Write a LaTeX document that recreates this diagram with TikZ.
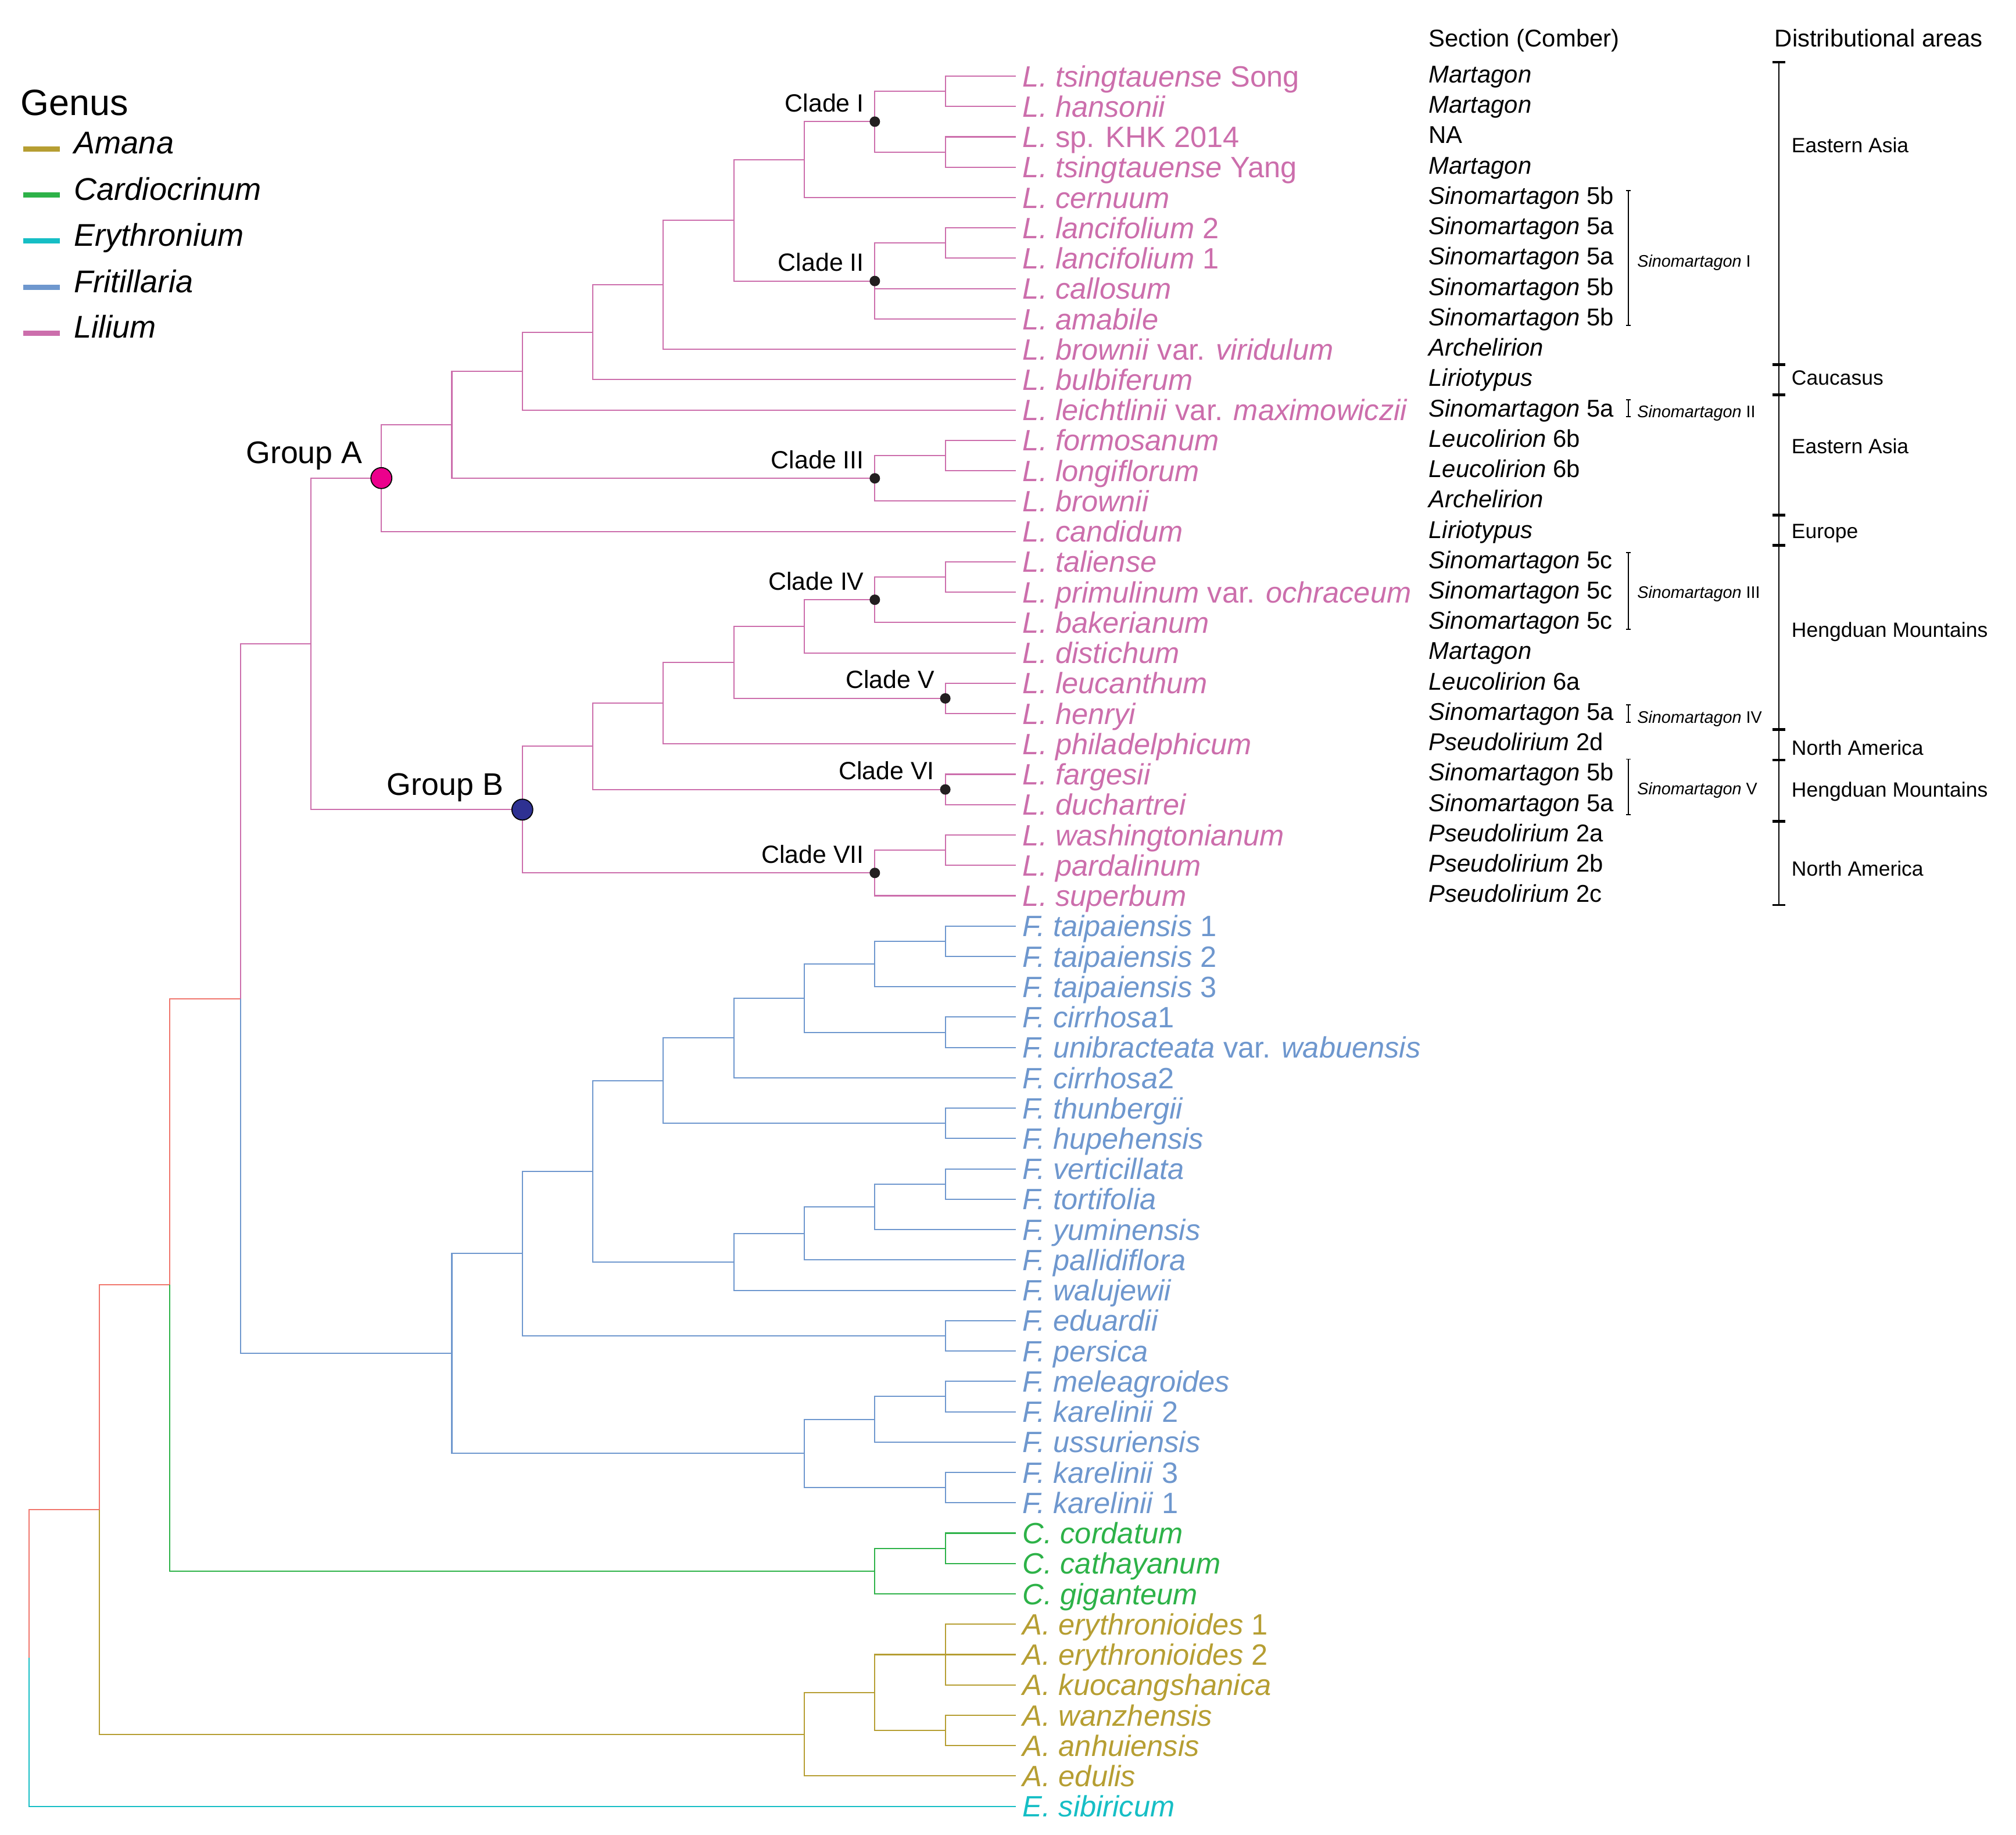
\documentclass[tikz,border=0pt]{standalone}
\usepackage{fontspec}
\setmainfont{Liberation Sans}
\definecolor{lilium}{RGB}{204,110,172}
\definecolor{fritillaria}{RGB}{110,151,206}
\definecolor{cardiocrinum}{RGB}{45,178,72}
\definecolor{amana}{RGB}{182,158,50}
\definecolor{erythronium}{RGB}{22,190,197}
\definecolor{stem}{RGB}{240,118,108}
\definecolor{groupA}{RGB}{236,0,140}
\definecolor{groupB}{RGB}{46,49,146}
\definecolor{cladedot}{RGB}{35,31,32}
\begin{document}
\begin{tikzpicture}[x=1.213cm, y=-0.5224cm,
  branch/.style={line width=0.6pt},
  leaf/.style={anchor=west, inner sep=0pt, outer xsep=0.12cm, text height=10.3pt, text depth=0pt, font=\fontsize{14.4}{17}\selectfont},
  sect/.style={anchor=west, inner sep=0pt, text height=8.5pt, text depth=0pt, yshift=0.035cm, font=\fontsize{11.9}{14}\selectfont},
  smallsect/.style={anchor=base west, inner sep=0pt, font=\fontsize{8.2}{10}\selectfont},
  distlab/.style={anchor=base west, inner sep=0pt, font=\fontsize{10.1}{12}\selectfont},
  colhead/.style={anchor=base west, inner sep=0pt, font=\fontsize{11.9}{14}\selectfont},
  cladelab/.style={anchor=base east, inner sep=0pt, xshift=-0.18cm, yshift=0.17cm, font=\fontsize{12.2}{14}\selectfont},
  grouplab/.style={anchor=base east, inner sep=0pt, xshift=-0.32cm, yshift=0.25cm, font=\fontsize{15.3}{18}\selectfont},
  cdot/.style={circle, fill=cladedot, inner sep=0pt, minimum size=0.18cm},
  gdot/.style={circle, draw=black, line width=0.5pt, inner sep=0pt, minimum size=0.36cm},
  legtext/.style={anchor=base west, inner sep=0pt, font=\fontsize{15.4}{18}\selectfont\itshape},
  bracket/.style={line width=0.5pt},
  distbar/.style={line width=0.8pt}]
\useasboundingbox (-0.41,-2.508) rectangle (28.189,57.944);
%
% x = depth in the tree, y = row of the tip
%
% tips
\node[leaf, text=lilium] (l0) at (14,0) {\textit{L. tsingtauense} Song};
\node[leaf, text=lilium] (l1) at (14,1) {\textit{L. hansonii}};
\node[leaf, text=lilium] (l2) at (14,2) {\textit{L.} sp. KHK 2014};
\node[leaf, text=lilium] (l3) at (14,3) {\textit{L. tsingtauense} Yang};
\node[leaf, text=lilium] (l4) at (14,4) {\textit{L. cernuum}};
\node[leaf, text=lilium] (l5) at (14,5) {\textit{L. lancifolium} 2};
\node[leaf, text=lilium] (l6) at (14,6) {\textit{L. lancifolium} 1};
\node[leaf, text=lilium] (l7) at (14,7) {\textit{L. callosum}};
\node[leaf, text=lilium] (l8) at (14,8) {\textit{L. amabile}};
\node[leaf, text=lilium] (l9) at (14,9) {\textit{L. brownii} var. \textit{viridulum}};
\node[leaf, text=lilium] (l10) at (14,10) {\textit{L. bulbiferum}};
\node[leaf, text=lilium] (l11) at (14,11) {\textit{L. leichtlinii} var. \textit{maximowiczii}};
\node[leaf, text=lilium] (l12) at (14,12) {\textit{L. formosanum}};
\node[leaf, text=lilium] (l13) at (14,13) {\textit{L. longiflorum}};
\node[leaf, text=lilium] (l14) at (14,14) {\textit{L. brownii}};
\node[leaf, text=lilium] (l15) at (14,15) {\textit{L. candidum}};
\node[leaf, text=lilium] (l16) at (14,16) {\textit{L. taliense}};
\node[leaf, text=lilium] (l17) at (14,17) {\textit{L. primulinum} var. \textit{ochraceum}};
\node[leaf, text=lilium] (l18) at (14,18) {\textit{L. bakerianum}};
\node[leaf, text=lilium] (l19) at (14,19) {\textit{L. distichum}};
\node[leaf, text=lilium] (l20) at (14,20) {\textit{L. leucanthum}};
\node[leaf, text=lilium] (l21) at (14,21) {\textit{L. henryi}};
\node[leaf, text=lilium] (l22) at (14,22) {\textit{L. philadelphicum}};
\node[leaf, text=lilium] (l23) at (14,23) {\textit{L. fargesii}};
\node[leaf, text=lilium] (l24) at (14,24) {\textit{L. duchartrei}};
\node[leaf, text=lilium] (l25) at (14,25) {\textit{L. washingtonianum}};
\node[leaf, text=lilium] (l26) at (14,26) {\textit{L. pardalinum}};
\node[leaf, text=lilium] (l27) at (14,27) {\textit{L. superbum}};
\node[leaf, text=fritillaria] (l28) at (14,28) {\textit{F. taipaiensis} 1};
\node[leaf, text=fritillaria] (l29) at (14,29) {\textit{F. taipaiensis} 2};
\node[leaf, text=fritillaria] (l30) at (14,30) {\textit{F. taipaiensis} 3};
\node[leaf, text=fritillaria] (l31) at (14,31) {\textit{F. cirrhosa}1};
\node[leaf, text=fritillaria] (l32) at (14,32) {\textit{F. unibracteata} var. \textit{wabuensis}};
\node[leaf, text=fritillaria] (l33) at (14,33) {\textit{F. cirrhosa}2};
\node[leaf, text=fritillaria] (l34) at (14,34) {\textit{F. thunbergii}};
\node[leaf, text=fritillaria] (l35) at (14,35) {\textit{F. hupehensis}};
\node[leaf, text=fritillaria] (l36) at (14,36) {\textit{F. verticillata}};
\node[leaf, text=fritillaria] (l37) at (14,37) {\textit{F. tortifolia}};
\node[leaf, text=fritillaria] (l38) at (14,38) {\textit{F. yuminensis}};
\node[leaf, text=fritillaria] (l39) at (14,39) {\textit{F. pallidiflora}};
\node[leaf, text=fritillaria] (l40) at (14,40) {\textit{F. walujewii}};
\node[leaf, text=fritillaria] (l41) at (14,41) {\textit{F. eduardii}};
\node[leaf, text=fritillaria] (l42) at (14,42) {\textit{F. persica}};
\node[leaf, text=fritillaria] (l43) at (14,43) {\textit{F. meleagroides}};
\node[leaf, text=fritillaria] (l44) at (14,44) {\textit{F. karelinii} 2};
\node[leaf, text=fritillaria] (l45) at (14,45) {\textit{F. ussuriensis}};
\node[leaf, text=fritillaria] (l46) at (14,46) {\textit{F. karelinii} 3};
\node[leaf, text=fritillaria] (l47) at (14,47) {\textit{F. karelinii} 1};
\node[leaf, text=cardiocrinum] (l48) at (14,48) {\textit{C. cordatum}};
\node[leaf, text=cardiocrinum] (l49) at (14,49) {\textit{C. cathayanum}};
\node[leaf, text=cardiocrinum] (l50) at (14,50) {\textit{C. giganteum}};
\node[leaf, text=amana] (l51) at (14,51) {\textit{A. erythronioides} 1};
\node[leaf, text=amana] (l52) at (14,52) {\textit{A. erythronioides} 2};
\node[leaf, text=amana] (l53) at (14,53) {\textit{A. kuocangshanica}};
\node[leaf, text=amana] (l54) at (14,54) {\textit{A. wanzhensis}};
\node[leaf, text=amana] (l55) at (14,55) {\textit{A. anhuiensis}};
\node[leaf, text=amana] (l56) at (14,56) {\textit{A. edulis}};
\node[leaf, text=erythronium] (l57) at (14,57) {\textit{E. sibiricum}};
%
% inner nodes, Lilium
\coordinate (lil) at (4,18.7031);
\coordinate (ga) at (5,13.2422);
\coordinate (ga1) at (6,11.4844);
\coordinate (ga2) at (7,9.7188);
\coordinate (ga3) at (8,8.4375);
\coordinate (ga4) at (9,6.875);
\coordinate (ga5) at (10,4.75);
\coordinate (ga6) at (11,2.75);
\coordinate (c1) at (12,1.5);
\coordinate (c1a) at (13,0.5);
\coordinate (c1b) at (13,2.5);
\coordinate (c2) at (12,6.75);
\coordinate (c2a) at (13,5.5);
\coordinate (c3) at (12,13.25);
\coordinate (c3a) at (13,12.5);
\coordinate (gb) at (7,24.1641);
\coordinate (gb1) at (8,22.0781);
\coordinate (gb2) at (9,20.6563);
\coordinate (gb3) at (10,19.3125);
\coordinate (gb4) at (11,18.125);
\coordinate (c4) at (12,17.25);
\coordinate (c4a) at (13,16.5);
\coordinate (c5) at (13,20.5);
\coordinate (c6) at (13,23.5);
\coordinate (c7) at (12,26.25);
\coordinate (c7a) at (13,25.5);
% Fritillaria
\coordinate (fri) at (6,42.082);
\coordinate (f1) at (7,38.7891);
\coordinate (f1a) at (13,41.5);
\coordinate (f2) at (8,36.0781);
\coordinate (f3) at (9,33.0938);
\coordinate (f3a) at (13,34.5);
\coordinate (f4) at (10,31.6875);
\coordinate (f5) at (11,30.375);
\coordinate (f5a) at (13,31.5);
\coordinate (f6) at (12,29.25);
\coordinate (f6a) at (13,28.5);
\coordinate (f7) at (10,39.0625);
\coordinate (f8) at (11,38.125);
\coordinate (f9) at (12,37.25);
\coordinate (f9a) at (13,36.5);
\coordinate (f10) at (11,45.375);
\coordinate (f11) at (12,44.25);
\coordinate (f11a) at (13,43.5);
\coordinate (f12) at (13,46.5);
% Cardiocrinum, Amana, backbone
\coordinate (car) at (12,49.25);
\coordinate (car1) at (13,48.5);
\coordinate (am) at (11,54.625);
\coordinate (am1) at (12,53.25);
\coordinate (am2) at (13,52);
\coordinate (am3) at (13,54.5);
\coordinate (n3) at (3,30.3926);
\coordinate (n2) at (2,39.8213);
\coordinate (n1) at (1,47.2231);
\coordinate (r) at (0,52.1116);
%
% branches
\draw[branch, stem] (r) |- (n1) (n1) |- (n2) (n2) |- (n3);
\draw[branch, erythronium] (r) |- (l57);
\draw[branch, amana] (n1) |- (am) (am) |- (am1) (am) |- (l56)
  (am1) |- (am2) (am1) |- (am3) (am2) |- (l51) (am2) -- (l52) (am2) |- (l53)
  (am3) |- (l54) (am3) |- (l55);
\draw[branch, cardiocrinum] (n2) |- (car) (car) |- (car1) (car) |- (l50)
  (car1) |- (l48) (car1) |- (l49);
\draw[branch, fritillaria] (n3) |- (fri) (fri) |- (f1) (fri) |- (f10)
  (f1) |- (f2) (f1) |- (f1a) (f1a) |- (l41) (f1a) |- (l42)
  (f2) |- (f3) (f2) |- (f7)
  (f3) |- (f4) (f3) |- (f3a) (f3a) |- (l34) (f3a) |- (l35)
  (f4) |- (f5) (f4) |- (l33)
  (f5) |- (f6) (f5) |- (f5a) (f5a) |- (l31) (f5a) |- (l32)
  (f6) |- (f6a) (f6) |- (l30) (f6a) |- (l28) (f6a) |- (l29)
  (f7) |- (f8) (f7) |- (l40)
  (f8) |- (f9) (f8) |- (l39)
  (f9) |- (f9a) (f9) |- (l38) (f9a) |- (l36) (f9a) |- (l37)
  (f10) |- (f11) (f10) |- (f12) (f12) |- (l46) (f12) |- (l47)
  (f11) |- (f11a) (f11) |- (l45) (f11a) |- (l43) (f11a) |- (l44);
\draw[branch, lilium] (n3) |- (lil) (lil) |- (ga) (lil) |- (gb)
  (ga) |- (ga1) (ga) |- (l15)
  (ga1) |- (ga2) (ga1) |- (c3)
  (ga2) |- (ga3) (ga2) |- (l11)
  (ga3) |- (ga4) (ga3) |- (l10)
  (ga4) |- (ga5) (ga4) |- (l9)
  (ga5) |- (ga6) (ga5) |- (c2)
  (ga6) |- (c1) (ga6) |- (l4)
  (c1) |- (c1a) (c1) |- (c1b) (c1a) |- (l0) (c1a) |- (l1) (c1b) |- (l2) (c1b) |- (l3)
  (c2) |- (c2a) (c2) |- (l7) (c2) |- (l8) (c2a) |- (l5) (c2a) |- (l6)
  (c3) |- (c3a) (c3) |- (l14) (c3a) |- (l12) (c3a) |- (l13)
  (gb) |- (gb1) (gb) |- (c7)
  (gb1) |- (gb2) (gb1) |- (c6)
  (gb2) |- (gb3) (gb2) |- (l22)
  (gb3) |- (gb4) (gb3) |- (c5)
  (gb4) |- (c4) (gb4) |- (l19)
  (c4) |- (c4a) (c4) |- (l18) (c4a) |- (l16) (c4a) |- (l17)
  (c5) |- (l20) (c5) |- (l21)
  (c6) |- (l23) (c6) |- (l24)
  (c7) |- (c7a) (c7) |- (l27) (c7a) |- (l25) (c7a) |- (l26);
%
% groups and clades
\node[gdot, fill=groupA] (gadot) at (ga) {};
\node[gdot, fill=groupB] (gbdot) at (gb) {};
\node[grouplab] (galab) at (ga) {Group A};
\node[grouplab] (gblab) at (gb) {Group B};
\node[cdot] (c1dot) at (c1) {};
\node[cdot] (c2dot) at (c2) {};
\node[cdot] (c3dot) at (c3) {};
\node[cdot] (c4dot) at (c4) {};
\node[cdot] (c5dot) at (c5) {};
\node[cdot] (c6dot) at (c6) {};
\node[cdot] (c7dot) at (c7) {};
\node[cladelab] (c1lab) at (c1) {Clade I};
\node[cladelab] (c2lab) at (c2) {Clade II};
\node[cladelab] (c3lab) at (c3) {Clade III};
\node[cladelab] (c4lab) at (c4) {Clade IV};
\node[cladelab] (c5lab) at (c5) {Clade V};
\node[cladelab] (c6lab) at (c6) {Clade VI};
\node[cladelab] (c7lab) at (c7) {Clade VII};
%
% legend
\node[anchor=base west, inner sep=0pt, font=\fontsize{17.9}{21}\selectfont] (genus) at (-0.121,1.30) {Genus};
\draw[amana, line width=2.56pt] (-0.08,2.393) -- (0.44,2.393);
\draw[cardiocrinum, line width=2.56pt] (-0.08,3.924) -- (0.44,3.924);
\draw[erythronium, line width=2.56pt] (-0.08,5.436) -- (0.44,5.436);
\draw[fritillaria, line width=2.56pt] (-0.08,6.949) -- (0.44,6.949);
\draw[lilium, line width=2.56pt] (-0.08,8.461) -- (0.44,8.461);
\node[legtext] (gen1) at (0.637,2.565) {Amana};
\node[legtext] (gen2) at (0.637,4.096) {Cardiocrinum};
\node[legtext] (gen3) at (0.637,5.608) {Erythronium};
\node[legtext] (gen4) at (0.637,7.121) {Fritillaria};
\node[legtext] (gen5) at (0.637,8.633) {Lilium};
%
% section (Comber)
\node[colhead] (sechead) at (19.854,-0.965) {Section (Comber)};
\node[sect] (s0) at (19.854,0) {\textit{Martagon}};
\node[sect] (s1) at (19.854,1) {\textit{Martagon}};
\node[sect] (s2) at (19.854,2) {NA};
\node[sect] (s3) at (19.854,3) {\textit{Martagon}};
\node[sect] (s4) at (19.854,4) {\textit{Sinomartagon} 5b};
\node[sect] (s5) at (19.854,5) {\textit{Sinomartagon} 5a};
\node[sect] (s6) at (19.854,6) {\textit{Sinomartagon} 5a};
\node[sect] (s7) at (19.854,7) {\textit{Sinomartagon} 5b};
\node[sect] (s8) at (19.854,8) {\textit{Sinomartagon} 5b};
\node[sect] (s9) at (19.854,9) {\textit{Archelirion}};
\node[sect] (s10) at (19.854,10) {\textit{Liriotypus}};
\node[sect] (s11) at (19.854,11) {\textit{Sinomartagon} 5a};
\node[sect] (s12) at (19.854,12) {\textit{Leucolirion} 6b};
\node[sect] (s13) at (19.854,13) {\textit{Leucolirion} 6b};
\node[sect] (s14) at (19.854,14) {\textit{Archelirion}};
\node[sect] (s15) at (19.854,15) {\textit{Liriotypus}};
\node[sect] (s16) at (19.854,16) {\textit{Sinomartagon} 5c};
\node[sect] (s17) at (19.854,17) {\textit{Sinomartagon} 5c};
\node[sect] (s18) at (19.854,18) {\textit{Sinomartagon} 5c};
\node[sect] (s19) at (19.854,19) {\textit{Martagon}};
\node[sect] (s20) at (19.854,20) {\textit{Leucolirion} 6a};
\node[sect] (s21) at (19.854,21) {\textit{Sinomartagon} 5a};
\node[sect] (s22) at (19.854,22) {\textit{Pseudolirium} 2d};
\node[sect] (s23) at (19.854,23) {\textit{Sinomartagon} 5b};
\node[sect] (s24) at (19.854,24) {\textit{Sinomartagon} 5a};
\node[sect] (s25) at (19.854,25) {\textit{Pseudolirium} 2a};
\node[sect] (s26) at (19.854,26) {\textit{Pseudolirium} 2b};
\node[sect] (s27) at (19.854,27) {\textit{Pseudolirium} 2c};
% Sinomartagon brackets
\draw[bracket] (22.66,3.77) -- (22.72,3.77) (22.69,3.77) -- (22.69,8.21) (22.66,8.21) -- (22.72,8.21);
\draw[bracket] (22.66,10.66) -- (22.72,10.66) (22.69,10.66) -- (22.69,11.22) (22.66,11.22) -- (22.72,11.22);
\draw[bracket] (22.66,15.69) -- (22.72,15.69) (22.69,15.69) -- (22.69,18.22) (22.66,18.22) -- (22.72,18.22);
\draw[bracket] (22.66,20.71) -- (22.72,20.71) (22.69,20.71) -- (22.69,21.29) (22.66,21.29) -- (22.72,21.29);
\draw[bracket] (22.66,22.5) -- (22.72,22.5) (22.69,22.5) -- (22.69,24.33) (22.66,24.33) -- (22.72,24.33);
\node[smallsect] (sm1) at (22.81,6.28) {\textit{Sinomartagon} I};
\node[smallsect] (sm2) at (22.81,11.24) {\textit{Sinomartagon} II};
\node[smallsect] (sm3) at (22.81,17.19) {\textit{Sinomartagon} III};
\node[smallsect] (sm4) at (22.81,21.32) {\textit{Sinomartagon} IV};
\node[smallsect] (sm5) at (22.81,23.66) {\textit{Sinomartagon} V};
%
% distributional areas
\node[colhead] (disthead) at (24.76,-0.965) {Distributional areas};
\draw[distbar] (24.825,-0.46) -- (24.825,27.31);
\draw[line width=0.9pt] (24.732,-0.46) -- (24.918,-0.46) (24.732,27.31) -- (24.918,27.31);
\draw[line width=1.4pt] (24.732,9.5) -- (24.918,9.5) (24.732,10.5) -- (24.918,10.5)
  (24.732,14.47) -- (24.918,14.47) (24.732,15.46) -- (24.918,15.46)
  (24.732,21.53) -- (24.918,21.53) (24.732,22.53) -- (24.918,22.53)
  (24.732,24.55) -- (24.918,24.55);
\node[distlab] (d1) at (25.0,2.52) {Eastern Asia};
\node[distlab] (d2) at (25.0,10.18) {Caucasus};
\node[distlab] (d3) at (25.0,12.44) {Eastern Asia};
\node[distlab] (d4) at (25.0,15.22) {Europe};
\node[distlab] (d5) at (25.0,18.49) {Hengduan Mountains};
\node[distlab] (d6) at (25.0,22.36) {North America};
\node[distlab] (d7) at (25.0,23.75) {Hengduan Mountains};
\node[distlab] (d8) at (25.0,26.34) {North America};
%
\end{tikzpicture}
\end{document}
